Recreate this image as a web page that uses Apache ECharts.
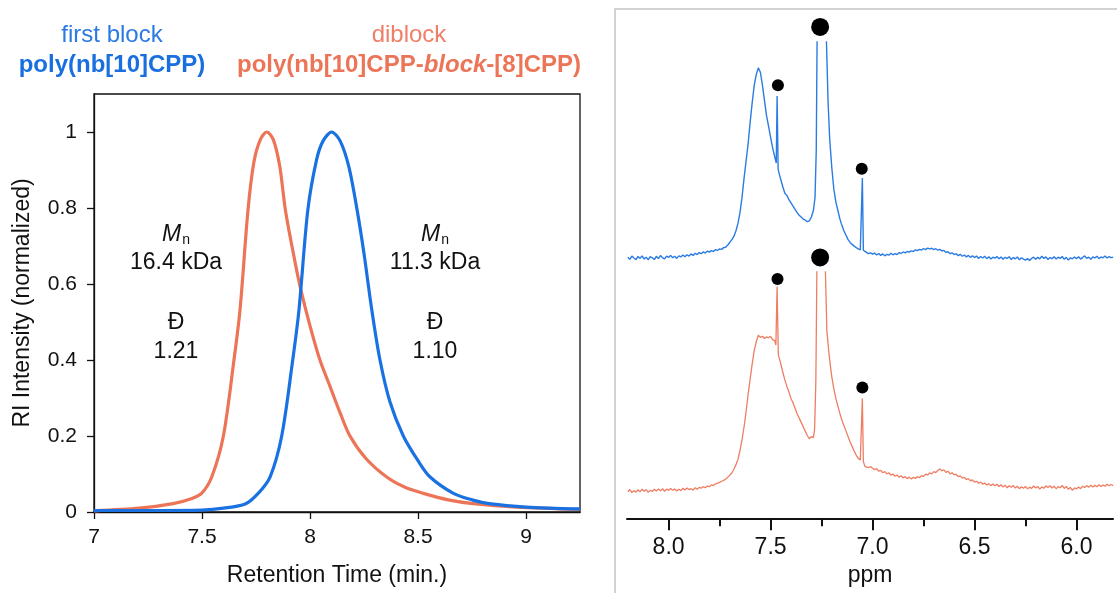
<!DOCTYPE html>
<html>
<head>
<meta charset="utf-8">
<script src="https://cdn.jsdelivr.net/npm/echarts@6/dist/echarts.min.js"></script>
<style>
html,body{margin:0;padding:0;background:#fff;}
#chart{width:1117px;height:593px;}
</style>
</head>
<body>
<div id="chart"></div>
<script>
// ---------- GPC data (retention time, normalized RI) ----------
var gpcFirstBlock = [
[7.0,0.004],[7.3,0.004],[7.5,0.005],[7.6,0.01],[7.7,0.021],[7.76,0.049],[7.815,0.092],
[7.869,0.2],[7.92,0.4],[7.949,0.532],[7.99,0.795],[8.03,0.926],[8.06,0.976],[8.1,1.0],
[8.14,0.976],[8.18,0.908],[8.218,0.795],[8.25,0.68],[8.286,0.532],[8.324,0.4],[8.37,0.29],
[8.432,0.2],[8.5,0.135],[8.556,0.092],[8.664,0.049],[8.75,0.032],[8.83,0.022],[9.0,0.013],[9.25,0.008]
];
var gpcDiblock = [
[7.0,0.003],[7.21,0.01],[7.366,0.022],[7.45,0.035],[7.498,0.049],[7.545,0.092],[7.599,0.2],
[7.648,0.4],[7.676,0.532],[7.713,0.795],[7.74,0.92],[7.77,0.98],[7.8,1.0],[7.83,0.98],
[7.86,0.91],[7.886,0.795],[7.93,0.66],[7.958,0.584],[8.0,0.49],[8.046,0.4],[8.093,0.33],
[8.14,0.26],[8.185,0.2],[8.26,0.14],[8.355,0.092],[8.44,0.065],[8.525,0.049],[8.64,0.032],[8.755,0.022],
[8.957,0.013],[9.25,0.007]
];
var gpcXTicks = [7, 7.5, 8, 8.5, 9];
var gpcYTicks = [0, 0.2, 0.4, 0.6, 0.8, 1];

// ---------- NMR data (ppm, intensity, arbitrary units) ----------
var nmrFirstBlock = [
[8.20,0.3],[8.19,-0.6],[8.18,0.9],[8.17,0.0],[8.16,-0.8],[8.15,0.7],[8.14,-0.2],[8.13,1.0],[8.12,-0.5],[8.11,0.4],
[8.10,-0.9],[8.09,0.6],[8.08,0.1],[8.07,-0.7],[8.06,0.8],[8.05,-0.3],[8.04,1.1],[8.03,0.2],[8.02,-0.4],[8.01,0.9],
[8.00,0.3],[7.99,1.2],[7.98,0.1],[7.97,0.8],[7.96,-0.2],[7.95,1.0],[7.94,0.5],[7.93,1.4],[7.92,0.6],[7.91,1.5],
[7.90,0.9],[7.89,1.9],[7.88,1.2],[7.87,2.2],[7.86,1.6],[7.85,2.5],[7.84,2.0],[7.83,2.8],[7.82,2.3],[7.81,3.2],
[7.80,2.7],[7.79,3.4],[7.78,3.0],[7.77,3.9],[7.76,3.5],[7.75,4.2],[7.74,4.0],[7.73,4.8],[7.72,5.0],[7.71,6.0],
[7.70,7.2],[7.69,8.5],[7.68,10],[7.67,12.5],[7.66,16],[7.65,21],[7.64,28],[7.63,37],[7.62,45],[7.61,53],
[7.60,63],[7.59,72],[7.58,80],[7.57,85],[7.56,88],[7.55,86],[7.54,80],[7.53,73],[7.52,66],[7.51,61],
[7.50,56],[7.49,51],[7.48,47],[7.472,44],[7.468,75],[7.463,41],[7.455,38],[7.44,33],[7.43,30],[7.42,29],
[7.41,27],[7.40,25.5],[7.39,24],[7.38,22.5],[7.37,21],[7.36,19.8],[7.35,19],[7.34,18],[7.33,17.5],[7.32,16.8],
[7.31,17.2],[7.30,19],[7.29,22],[7.282,28],[7.276,50],[7.272,100],[7.25,1500],[7.226,100],[7.218,72],[7.21,55],
[7.20,42],[7.19,32],[7.18,26],[7.17,22],[7.16,18],[7.15,15],[7.14,12.5],[7.13,10.5],[7.12,8.5],[7.11,7.2],
[7.10,6.3],[7.09,5.5],[7.08,4.8],[7.07,4.2],[7.06,3.8],[7.055,3.5],[7.05,37],[7.045,3.6],[7.04,3.0],[7.03,2.6],
[7.02,2.0],[7.01,2.4],[7.00,1.8],[6.99,2.3],[6.98,1.4],[6.97,2.1],[6.96,1.2],[6.95,1.9],[6.94,1.0],[6.93,1.7],
[6.92,1.3],[6.91,2.2],[6.90,1.5],[6.89,2.0],[6.88,1.6],[6.87,2.5],[6.86,2.1],[6.85,2.8],[6.84,2.4],[6.83,3.0],
[6.82,2.7],[6.81,3.3],[6.80,3.0],[6.79,3.8],[6.78,3.4],[6.77,4.0],[6.76,3.7],[6.75,4.4],[6.74,3.9],[6.73,4.6],
[6.72,4.2],[6.71,4.5],[6.70,3.9],[6.69,4.3],[6.68,3.6],[6.67,4.0],[6.66,3.3],[6.65,3.5],[6.64,2.6],[6.63,2.9],
[6.62,2.0],[6.61,2.4],[6.60,1.6],[6.59,2.0],[6.58,1.1],[6.57,1.7],[6.56,0.8],[6.55,1.4],[6.54,0.5],[6.53,1.2],
[6.52,0.3],[6.51,1.0],[6.50,0.2],[6.49,0.9],[6.48,-0.2],[6.47,0.7],[6.46,0.0],[6.45,0.8],[6.44,-0.3],[6.43,0.6],
[6.42,-0.5],[6.41,0.4],[6.40,-0.1],[6.39,0.7],[6.38,-0.4],[6.37,0.5],[6.36,-0.6],[6.35,0.3],[6.34,-0.2],[6.33,0.6],
[6.32,-0.7],[6.31,0.2],[6.30,-0.4],[6.29,0.5],[6.28,-0.8],[6.27,0.1],[6.26,-0.5],[6.25,-1.0],[6.24,-0.3],[6.23,-1.1],
[6.22,-0.2],[6.21,0.4],[6.20,-0.6],[6.19,0.3],[6.18,-0.4],[6.17,0.8],[6.16,-0.2],[6.15,0.5],[6.14,-0.7],[6.13,0.2],
[6.12,-0.3],[6.11,0.6],[6.10,-0.5],[6.09,0.4],[6.08,-0.2],[6.07,0.7],[6.06,-0.6],[6.05,0.3],[6.04,-1.0],[6.03,0.1],
[6.02,-0.4],[6.01,0.5],[6.00,-0.3],[5.99,0.6],[5.98,-0.5],[5.97,0.2],[5.96,1.0],[5.95,-0.2],[5.94,0.4],[5.93,-0.6],
[5.92,0.5],[5.91,0.0],[5.90,0.8],[5.89,-0.3],[5.88,0.5],[5.87,0.1],[5.86,0.9],[5.85,0.0],[5.84,0.6],[5.83,0.2],[5.82,0.4]
];
var nmrDiblock = [
[8.20,-0.8],[8.19,0.2],[8.18,-1.2],[8.17,-0.3],[8.16,-1.0],[8.15,0.1],[8.14,-0.9],[8.13,0.4],[8.12,-0.6],[8.11,0.2],
[8.10,-1.1],[8.09,-0.2],[8.08,-0.7],[8.07,0.3],[8.06,-0.5],[8.05,0.5],[8.04,-0.4],[8.03,0.6],[8.02,-0.6],[8.01,0.4],
[8.00,-0.2],[7.99,0.7],[7.98,-0.1],[7.97,0.5],[7.96,-0.5],[7.95,0.3],[7.94,-0.3],[7.93,0.8],[7.92,0.0],[7.91,0.9],
[7.90,0.2],[7.89,0.6],[7.88,-0.1],[7.87,1.0],[7.86,0.3],[7.85,1.2],[7.84,0.8],[7.83,1.5],[7.82,1.0],[7.81,1.8],
[7.80,1.5],[7.79,2.3],[7.78,2.0],[7.77,2.8],[7.76,3.1],[7.75,3.5],[7.74,4.0],[7.73,4.4],[7.72,5.0],[7.71,5.8],
[7.70,6.8],[7.69,7.8],[7.68,9.5],[7.67,11.5],[7.66,14],[7.65,18],[7.64,23],[7.63,29],[7.62,36],[7.61,44],
[7.60,51],[7.59,58],[7.58,64],[7.57,68],[7.56,71],[7.55,70],[7.54,70.5],[7.53,69.5],[7.52,70.2],[7.51,69.8],
[7.50,70.5],[7.49,69],[7.48,68.5],[7.474,66.5],[7.468,93.3],[7.462,62],[7.453,59],[7.44,54],[7.43,50.5],[7.42,47.5],
[7.41,45],[7.40,42],[7.39,40],[7.38,37.5],[7.37,35],[7.36,33],[7.35,31],[7.34,29],[7.33,27],[7.32,25],
[7.31,23.5],[7.30,24.5],[7.29,24],[7.284,28],[7.278,50],[7.273,100],[7.252,1500],[7.231,100],[7.224,73],[7.215,64],
[7.208,58],[7.20,52],[7.19,46.5],[7.18,42],[7.17,38.5],[7.16,35],[7.15,32],[7.14,29.5],[7.13,27],[7.12,24.5],
[7.11,22],[7.10,20],[7.09,17.8],[7.08,16],[7.07,14.5],[7.06,13.8],[7.055,13.6],[7.05,42],[7.045,13],[7.037,10.7],
[7.03,11],[7.02,10.2],[7.01,10.8],[7.00,10.0],[6.99,9.3],[6.98,9.8],[6.97,8.6],[6.96,9.0],[6.95,7.9],[6.94,8.4],
[6.93,7.4],[6.92,7.9],[6.91,6.8],[6.90,7.3],[6.89,6.3],[6.88,6.9],[6.87,5.8],[6.86,6.5],[6.85,5.5],[6.84,6.1],
[6.83,5.2],[6.82,5.9],[6.81,5.0],[6.80,5.8],[6.79,5.3],[6.78,6.2],[6.77,5.6],[6.76,6.6],[6.75,6.2],[6.74,7.3],
[6.73,6.9],[6.72,7.8],[6.71,7.4],[6.70,8.4],[6.69,8.0],[6.68,9.0],[6.67,9.6],[6.66,8.8],[6.65,9.2],[6.64,8.1],
[6.63,8.6],[6.62,7.4],[6.61,7.9],[6.60,7.0],[6.59,7.2],[6.58,6.1],[6.57,6.5],[6.56,5.4],[6.55,5.8],[6.54,4.8],
[6.53,5.2],[6.52,4.2],[6.51,4.6],[6.50,3.6],[6.49,4.0],[6.48,3.1],[6.47,3.6],[6.46,2.7],[6.45,3.2],[6.44,2.3],
[6.43,2.9],[6.42,2.0],[6.41,2.7],[6.40,1.9],[6.39,2.6],[6.38,1.6],[6.37,2.4],[6.36,1.3],[6.35,2.2],[6.34,1.0],
[6.33,1.9],[6.32,1.2],[6.31,2.0],[6.30,0.9],[6.29,1.7],[6.28,0.6],[6.27,1.5],[6.26,0.8],[6.25,1.6],[6.24,0.5],
[6.23,1.3],[6.22,0.7],[6.21,1.8],[6.20,0.9],[6.19,1.6],[6.18,0.4],[6.17,1.4],[6.16,0.8],[6.15,1.9],[6.14,1.1],
[6.13,2.0],[6.12,0.9],[6.11,1.7],[6.10,0.6],[6.09,1.5],[6.08,1.0],[6.07,2.1],[6.06,0.7],[6.05,1.6],[6.04,0.3],
[6.03,1.2],[6.02,-0.2],[6.01,1.0],[6.00,0.5],[5.99,1.4],[5.98,0.6],[5.97,1.7],[5.96,1.1],[5.95,2.0],[5.94,1.2],
[5.93,2.2],[5.92,1.4],[5.91,2.1],[5.90,1.5],[5.89,2.4],[5.88,1.6],[5.87,2.3],[5.86,1.7],[5.85,2.6],[5.84,1.9],
[5.83,2.5],[5.82,2.0]
];
// peak markers (ppm, intensity)
var firstBlockSmallDots = [[7.464, 80], [7.053, 41.3]];
var firstBlockBigDots = [[7.257, 107]];
var diblockSmallDots = [[7.466, 96.8], [7.05, 47]];
var diblockBigDots = [[7.257, 106.7]];
var nmrMajorTicks = [8.0, 7.5, 7.0, 6.5, 6.0];
var nmrMinorTicks = [7.75, 7.25, 6.75, 6.25];

// ---------- chart ----------
var BLUE = '#1a72e2';
var SALMON = '#ec7457';
var NMR_BLUE = '#2a7be3';
var NMR_SALMON = '#ee7d62';
var FONT = '"Liberation Sans", Arial, sans-serif';

var chart = echarts.init(document.getElementById('chart'), null, {renderer: 'canvas'});

var option = {
  backgroundColor: '#fff',
  animation: false,
  textStyle: {fontFamily: FONT},
  grid: [
    {left: 94, top: 94, width: 486, height: 418, show: true, borderColor: '#111', borderWidth: 1.3, backgroundColor: 'transparent'},
    {left: 627, top: 42, width: 486, height: 226.8},
    {left: 627, top: 272, width: 486, height: 246.3}
  ],
  xAxis: [
    {gridIndex: 0, type: 'value', min: 7, max: 9.25,
     axisLine: {show: true, onZero: false, lineStyle: {color: '#111', width: 1.3}},
     axisTick: {show: true, length: 7, customValues: gpcXTicks, lineStyle: {color: '#111', width: 1.3}},
     axisLabel: {customValues: gpcXTicks, fontSize: 21, color: '#111', margin: 15, fontFamily: FONT},
     splitLine: {show: false}},
    {gridIndex: 1, type: 'value', min: 5.821, max: 8.204, inverse: true, show: false},
    {gridIndex: 2, type: 'value', min: 5.821, max: 8.204, inverse: true, position: 'bottom',
     axisLine: {show: true, onZero: false, lineStyle: {color: '#111', width: 2}},
     axisTick: {show: true, length: 12, customValues: nmrMajorTicks, lineStyle: {color: '#111', width: 2}},
     axisLabel: {customValues: nmrMajorTicks, fontSize: 23, color: '#111', margin: 18, fontFamily: FONT,
                 formatter: function (v) { return Number(v).toFixed(1); }},
     splitLine: {show: false}},
    {gridIndex: 2, type: 'value', min: 5.821, max: 8.204, inverse: true, position: 'bottom', offset: 0,
     axisLine: {show: false, onZero: false},
     axisTick: {show: true, length: 8, customValues: nmrMinorTicks, lineStyle: {color: '#111', width: 2}},
     axisLabel: {show: false},
     splitLine: {show: false}}
  ],
  yAxis: [
    {gridIndex: 0, type: 'value', min: 0, max: 1.1,
     axisLine: {show: true, onZero: false, lineStyle: {color: '#111', width: 1.3}},
     axisTick: {show: true, length: 7, customValues: gpcYTicks, lineStyle: {color: '#111', width: 1.3}},
     axisLabel: {customValues: gpcYTicks, fontSize: 21, color: '#111', margin: 17, fontFamily: FONT},
     splitLine: {show: false}},
    {gridIndex: 1, type: 'value', min: -5, max: 100, show: false},
    {gridIndex: 2, type: 'value', min: -13, max: 100, show: false}
  ],
  series: [
    {type: 'line', xAxisIndex: 0, yAxisIndex: 0, data: gpcDiblock, showSymbol: false, smooth: 0.3,
     lineStyle: {color: SALMON, width: 3.2}, z: 3},
    {type: 'line', xAxisIndex: 0, yAxisIndex: 0, data: gpcFirstBlock, showSymbol: false, smooth: 0.3,
     lineStyle: {color: BLUE, width: 3.2}, z: 4},
    {type: 'line', xAxisIndex: 1, yAxisIndex: 1, data: nmrFirstBlock, showSymbol: false, clip: true,
     lineStyle: {color: NMR_BLUE, width: 1.4}},
    {type: 'line', xAxisIndex: 2, yAxisIndex: 2, data: nmrDiblock, showSymbol: false, clip: true,
     lineStyle: {color: NMR_SALMON, width: 1.3}},
    {type: 'scatter', xAxisIndex: 1, yAxisIndex: 1, data: firstBlockSmallDots, symbolSize: 12, clip: false, itemStyle: {color: '#000', opacity: 1}},
    {type: 'scatter', xAxisIndex: 1, yAxisIndex: 1, data: firstBlockBigDots, symbolSize: 18, clip: false, itemStyle: {color: '#000', opacity: 1}},
    {type: 'scatter', xAxisIndex: 2, yAxisIndex: 2, data: diblockSmallDots, symbolSize: 12, clip: false, itemStyle: {color: '#000', opacity: 1}},
    {type: 'scatter', xAxisIndex: 2, yAxisIndex: 2, data: diblockBigDots, symbolSize: 18, clip: false, itemStyle: {color: '#000', opacity: 1}}
  ],
  graphic: [
    {type: 'rect', shape: {x: 615, y: 9, width: 620, height: 700}, style: {fill: 'none', stroke: '#c4c4c4', lineWidth: 1.5}, silent: true},
    {type: 'text', x: 112, y: 35, style: {text: 'first block', fill: '#2a7ae2', font: '24px ' + FONT, textAlign: 'center', textVerticalAlign: 'middle'}},
    {type: 'text', x: 112, y: 65, style: {text: 'poly(nb[10]CPP)', fill: '#1a6fdf', font: 'bold 24px ' + FONT, textAlign: 'center', textVerticalAlign: 'middle'}},
    {type: 'text', x: 409, y: 35, style: {text: 'diblock', fill: '#ef7f66', font: '24px ' + FONT, textAlign: 'center', textVerticalAlign: 'middle'}},
    {type: 'text', x: 409, y: 65, style: {
      text: '{b|poly(nb[10]CPP-}{bi|block}{b|-[8]CPP)}', textAlign: 'center', textVerticalAlign: 'middle',
      rich: {
        b: {fill: '#ec7457', fontSize: 24, fontWeight: 'bold', fontFamily: FONT},
        bi: {fill: '#ec7457', fontSize: 24, fontWeight: 'bold', fontStyle: 'italic', fontFamily: FONT}
      }}},
    {type: 'text', x: 176, y: 235, style: {
      text: '{m|M}{s|n}', textAlign: 'center', textVerticalAlign: 'middle',
      rich: {m: {fill: '#111', fontSize: 23, fontStyle: 'italic', fontFamily: FONT},
             s: {fill: '#111', fontSize: 14, fontFamily: FONT, padding: [10, 0, 0, 1]}}}},
    {type: 'text', x: 176, y: 263, style: {text: '16.4 kDa', fill: '#111', font: '23px ' + FONT, textAlign: 'center', textVerticalAlign: 'middle'}},
    {type: 'text', x: 176, y: 323, style: {text: 'Đ', fill: '#111', font: '23px ' + FONT, textAlign: 'center', textVerticalAlign: 'middle'}},
    {type: 'text', x: 176, y: 352, style: {text: '1.21', fill: '#111', font: '23px ' + FONT, textAlign: 'center', textVerticalAlign: 'middle'}},
    {type: 'text', x: 435, y: 235, style: {
      text: '{m|M}{s|n}', textAlign: 'center', textVerticalAlign: 'middle',
      rich: {m: {fill: '#111', fontSize: 23, fontStyle: 'italic', fontFamily: FONT},
             s: {fill: '#111', fontSize: 14, fontFamily: FONT, padding: [10, 0, 0, 1]}}}},
    {type: 'text', x: 435, y: 263, style: {text: '11.3 kDa', fill: '#111', font: '23px ' + FONT, textAlign: 'center', textVerticalAlign: 'middle'}},
    {type: 'text', x: 435, y: 323, style: {text: 'Đ', fill: '#111', font: '23px ' + FONT, textAlign: 'center', textVerticalAlign: 'middle'}},
    {type: 'text', x: 435, y: 352, style: {text: '1.10', fill: '#111', font: '23px ' + FONT, textAlign: 'center', textVerticalAlign: 'middle'}},
    {type: 'text', x: 23, y: 303, rotation: Math.PI / 2, style: {text: 'RI Intensity (normalized)', fill: '#111', font: '23px ' + FONT, textAlign: 'center', textVerticalAlign: 'middle'}},
    {type: 'text', x: 337, y: 576, style: {text: 'Retention Time (min.)', fill: '#111', font: '23px ' + FONT, textAlign: 'center', textVerticalAlign: 'middle'}},
    {type: 'text', x: 870, y: 576, style: {text: 'ppm', fill: '#111', font: '23px ' + FONT, textAlign: 'center', textVerticalAlign: 'middle'}}
  ]
};
chart.setOption(option);
</script>
</body>
</html>
